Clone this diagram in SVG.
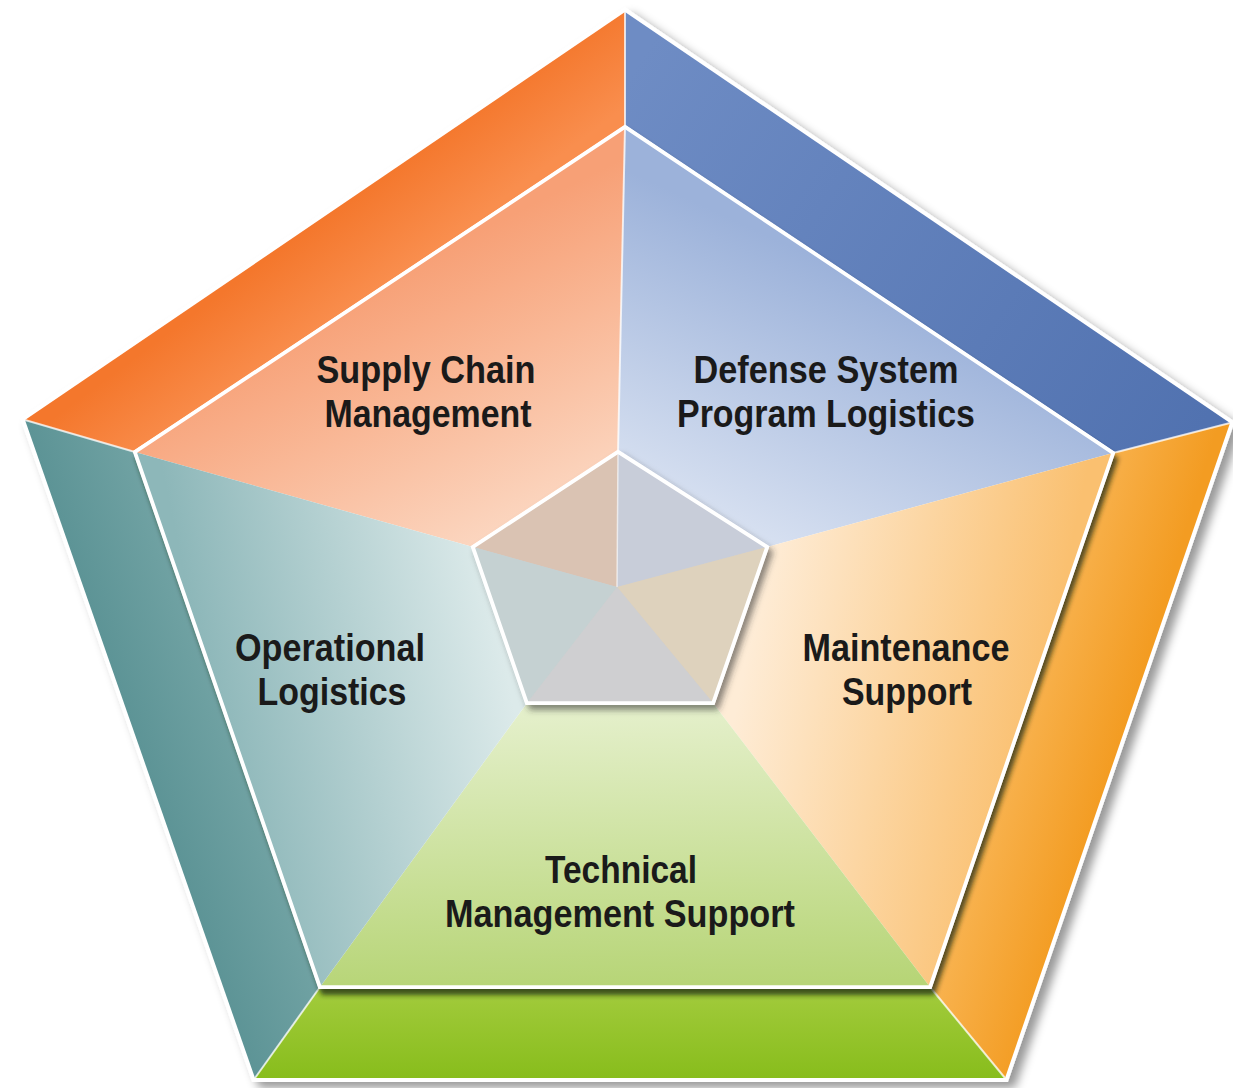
<svg xmlns="http://www.w3.org/2000/svg" width="1233" height="1088" viewBox="0 0 1233 1088">
<style>
.lbl{font-family:"Liberation Sans",Arial,Helvetica,sans-serif;font-weight:bold;font-size:38px;fill:#1a1a1a;text-anchor:middle}
.div{stroke:#ffffff;stroke-width:2;stroke-opacity:0.75;fill:none}
.edge{fill:none;stroke:#ffffff;stroke-width:3.5;stroke-linejoin:miter}
</style>
<defs>
<filter id="shOuter" x="-10%" y="-10%" width="125%" height="125%">
<feDropShadow dx="7" dy="6" stdDeviation="5" flood-color="#000" flood-opacity="0.4"/>
</filter>
<filter id="shInner" x="-10%" y="-10%" width="125%" height="125%">
<feDropShadow dx="3" dy="6" stdDeviation="2.5" flood-color="#1f2a10" flood-opacity="0.75"/>
</filter>
<filter id="shCenter" x="-20%" y="-20%" width="145%" height="145%">
<feDropShadow dx="4" dy="5" stdDeviation="3" flood-color="#333" flood-opacity="0.55"/>
</filter>
<linearGradient id="gBandO" gradientUnits="userSpaceOnUse" x1="325" y1="216" x2="380" y2="290"><stop offset="0" stop-color="#F4772C"/><stop offset="1" stop-color="#F98E4E"/></linearGradient>
<linearGradient id="gBandB" gradientUnits="userSpaceOnUse" x1="640" y1="60" x2="1200" y2="430"><stop offset="0" stop-color="#6E8CC4"/><stop offset="1" stop-color="#5172B0"/></linearGradient>
<linearGradient id="gBandA" gradientUnits="userSpaceOnUse" x1="1118" y1="750" x2="1021" y2="720"><stop offset="0" stop-color="#F39C22"/><stop offset="1" stop-color="#F8B24E"/></linearGradient>
<linearGradient id="gBandG" gradientUnits="userSpaceOnUse" x1="0" y1="990" x2="0" y2="1078"><stop offset="0" stop-color="#A2CB3C"/><stop offset="1" stop-color="#88BD1C"/></linearGradient>
<linearGradient id="gBandT" gradientUnits="userSpaceOnUse" x1="140" y1="750" x2="227" y2="720"><stop offset="0" stop-color="#5D9496"/><stop offset="1" stop-color="#70A2A3"/></linearGradient>
<linearGradient id="gSecO" gradientUnits="userSpaceOnUse" x1="420" y1="260" x2="560" y2="540"><stop offset="0" stop-color="#F7A076"/><stop offset="1" stop-color="#FCDCC8"/></linearGradient>
<linearGradient id="gSecB" gradientUnits="userSpaceOnUse" x1="820" y1="260" x2="690" y2="540"><stop offset="0" stop-color="#9CB2DA"/><stop offset="1" stop-color="#DDE5F3"/></linearGradient>
<linearGradient id="gSecA" gradientUnits="userSpaceOnUse" x1="1040" y1="700" x2="750" y2="640"><stop offset="0" stop-color="#FAC070"/><stop offset="1" stop-color="#FEECD6"/></linearGradient>
<linearGradient id="gSecG" gradientUnits="userSpaceOnUse" x1="625" y1="985" x2="620" y2="705"><stop offset="0" stop-color="#B7D577"/><stop offset="1" stop-color="#E5F0CC"/></linearGradient>
<linearGradient id="gSecT" gradientUnits="userSpaceOnUse" x1="210" y1="700" x2="500" y2="640"><stop offset="0" stop-color="#8DB7B9"/><stop offset="1" stop-color="#DCEAEA"/></linearGradient>
</defs>
<rect x="0" y="0" width="1233" height="1088" fill="#ffffff"/>

<g id="outer-frame" filter="url(#shOuter)">
<polygon points="625,12 1230,423 1005,1078 255,1078 25,420" fill="#ffffff" stroke="#ffffff" stroke-width="8" stroke-linejoin="miter"/>
</g>

<g id="bands">
<polygon id="band-supply" points="25,420 625,12 625,127 135,452" fill="url(#gBandO)"/>
<polygon id="band-defense" points="625,12 1230,423 1113,453 625,127" fill="url(#gBandB)"/>
<polygon id="band-maintenance" points="1230,423 1005,1078 930,987 1113,453" fill="url(#gBandA)"/>
<polygon id="band-technical" points="1005,1078 255,1078 320,987 930,987" fill="url(#gBandG)"/>
<polygon id="band-operational" points="255,1078 25,420 135,452 320,987" fill="url(#gBandT)"/>
</g>

<g id="band-dividers">
<line class="div" x1="625" y1="12" x2="625" y2="127"/>
<line class="div" x1="1230" y1="423" x2="1113" y2="453"/>
<line class="div" x1="1005" y1="1078" x2="930" y2="987"/>
<line class="div" x1="255" y1="1078" x2="320" y2="987"/>
<line class="div" x1="25" y1="420" x2="135" y2="452"/>
</g>

<g id="inner-area" filter="url(#shInner)">
<polygon points="625,127 1113,453 930,987 320,987 135,452" fill="#ffffff" stroke="#ffffff" stroke-width="4"/>
</g>

<g id="supply-chain-management">
<polygon points="135,452 625,127 618,452 473,547" fill="url(#gSecO)"/>
<text class="lbl" x="426" y="383" textLength="219" lengthAdjust="spacingAndGlyphs">Supply Chain</text>
<text class="lbl" x="428" y="427" textLength="207" lengthAdjust="spacingAndGlyphs">Management</text>
</g>
<g id="defense-system-program-logistics">
<polygon points="625,127 1113,453 767,547 618,452" fill="url(#gSecB)"/>
<text class="lbl" x="826" y="383" textLength="265" lengthAdjust="spacingAndGlyphs">Defense System</text>
<text class="lbl" x="826" y="427" textLength="298" lengthAdjust="spacingAndGlyphs">Program Logistics</text>
</g>
<g id="maintenance-support">
<polygon points="1113,453 930,987 713,703 767,547" fill="url(#gSecA)"/>
<text class="lbl" x="906" y="661" textLength="207" lengthAdjust="spacingAndGlyphs">Maintenance</text>
<text class="lbl" x="907" y="705" textLength="130" lengthAdjust="spacingAndGlyphs">Support</text>
</g>
<g id="technical-management-support">
<polygon points="930,987 320,987 527,703 713,703" fill="url(#gSecG)"/>
<text class="lbl" x="621" y="883" textLength="152" lengthAdjust="spacingAndGlyphs">Technical</text>
<text class="lbl" x="620" y="927" textLength="350" lengthAdjust="spacingAndGlyphs">Management Support</text>
</g>
<g id="operational-logistics">
<polygon points="320,987 135,452 473,547 527,703" fill="url(#gSecT)"/>
<text class="lbl" x="330" y="661" textLength="190" lengthAdjust="spacingAndGlyphs">Operational</text>
<text class="lbl" x="332" y="705" textLength="149" lengthAdjust="spacingAndGlyphs">Logistics</text>
</g>

<g id="inner-edges">
<polygon class="edge" points="625,127 1113,453 930,987 320,987 135,452"/>
<line class="div" x1="625" y1="127" x2="618" y2="452" stroke-opacity="0.5"/>
</g>

<g id="center-hub">
<polygon points="618,452 767,547 713,703 527,703 473,547" fill="#D0CFCF" stroke="#ffffff" stroke-width="4" filter="url(#shCenter)"/>
<polygon points="473,547 618,452 617,587" fill="#DAC3B3"/>
<polygon points="618,452 767,547 617,587" fill="#C8CDD9"/>
<polygon points="767,547 713,703 617,587" fill="#DED2BD"/>
<polygon points="713,703 527,703 617,587" fill="#CFCFD1"/>
<polygon points="527,703 473,547 617,587" fill="#C5D1D2"/>
<line x1="618" y1="452" x2="617" y2="587" stroke="#ffffff" stroke-width="1.5" stroke-opacity="0.6"/>
<polygon points="618,452 767,547 713,703 527,703 473,547" fill="none" stroke="#ffffff" stroke-width="3.5"/>
</g>
</svg>
